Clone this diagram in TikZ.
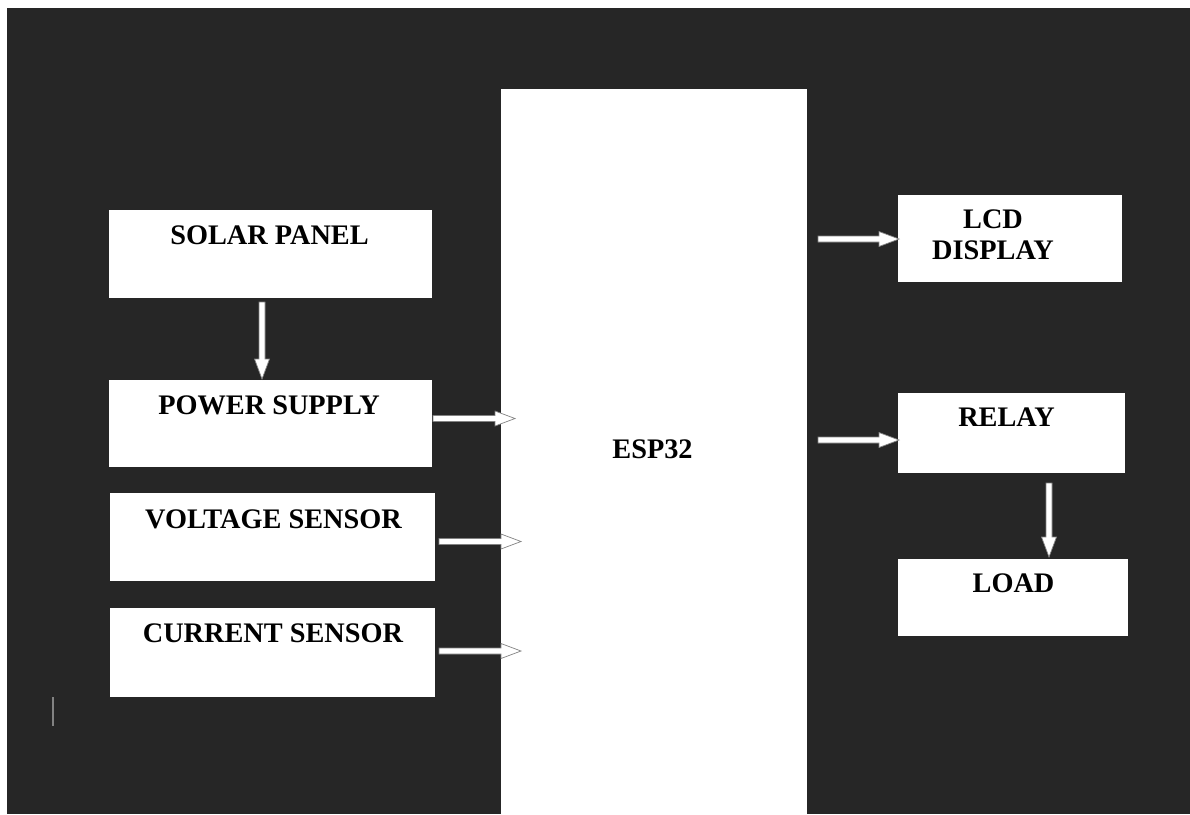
\documentclass[tikz,border=0pt]{standalone}
\usepackage{fontspec}
\setmainfont{Liberation Serif}
\usetikzlibrary{calc}
\definecolor{bgdark}{RGB}{38,38,38}
\definecolor{edgegray}{RGB}{130,130,130}
\tikzset{
  box/.style={fill=white, draw=none, inner sep=0pt, outer sep=0pt, anchor=north west},
  lbl/.style={font=\bfseries\fontsize{28.3}{31}\selectfont, text=black, inner sep=0pt, anchor=base, align=center},
  fatstyle/.style={fill=white, draw=edgegray, line width=0.7pt, line join=miter},
}
\newcommand\fatarr[2]{%
  \path ($(#2)!20pt!(#1)$) coordinate (fc);
  \filldraw[fatstyle] ($(#1)!3pt!90:(#2)$) -- ($(fc)!3pt!90:(#2)$) -- ($(fc)!7.5pt!90:(#2)$) -- (#2)
    -- ($(fc)!7.5pt!-90:(#2)$) -- ($(fc)!3pt!-90:(#2)$) -- ($(#1)!3pt!-90:(#2)$) -- cycle;}
\begin{document}
\begin{tikzpicture}[x=1pt,y=-1pt]
\useasboundingbox (0,0) rectangle (1190,814);
\fill[white] (0,0) rectangle (1190,814);
\fill[bgdark] (7,8) rectangle (1190,814);
% boxes
\node[box, minimum width=323pt, minimum height=88pt] (solar) at (109,210) {};
\node[box, minimum width=323pt, minimum height=87pt] (power) at (109,380) {};
\node[box, minimum width=325pt, minimum height=88pt] (volt) at (110,493) {};
\node[box, minimum width=325pt, minimum height=89pt] (curr) at (110,608) {};
\node[box, minimum width=306pt, minimum height=725pt] (esp) at (501,89) {};
\node[box, minimum width=224pt, minimum height=87pt] (lcd) at (898,195) {};
\node[box, minimum width=227pt, minimum height=80pt] (relay) at (898,393) {};
\node[box, minimum width=230pt, minimum height=77pt] (load) at (898,559) {};
% labels
\node[lbl] (tsolar) at (269.5,244) {SOLAR PANEL};
\node[lbl] (tpower) at (269,414) {POWER SUPPLY};
\node[lbl] (tvolt) at (273.5,528) {VOLTAGE SENSOR};
\node[lbl] (tcurr) at (273,642) {CURRENT SENSOR};
\node[lbl] (tesp) at (652.5,458) {ESP32};
\node[lbl] (tlcd) at (993,259) {LCD\\DISPLAY};
\node[lbl] (trelay) at (1006.5,426) {RELAY};
\node[lbl] (tload) at (1013.5,592) {LOAD};
% arrow end points
\coordinate (s1) at (262,302);   \coordinate (e1) at (262,379);
\coordinate (s2) at (433,418.5); \coordinate (e2) at (515,418.5);
\coordinate (s3) at (439,541.5); \coordinate (e3) at (521,541.5);
\coordinate (s4) at (439,651);   \coordinate (e4) at (521,651);
\coordinate (s5) at (818,239);   \coordinate (e5) at (899,239);
\coordinate (s6) at (818,440);   \coordinate (e6) at (899,440);
\coordinate (s7) at (1049,483);  \coordinate (e7) at (1049,557);
\fatarr{s1}{e1}
\fatarr{s2}{e2}
\fatarr{s3}{e3}
\fatarr{s4}{e4}
\fatarr{s5}{e5}
\fatarr{s6}{e6}
\fatarr{s7}{e7}
% text cursor mark
\draw[edgegray, line width=1.5pt] (53,697) -- (53,726);
\end{tikzpicture}
\end{document}
